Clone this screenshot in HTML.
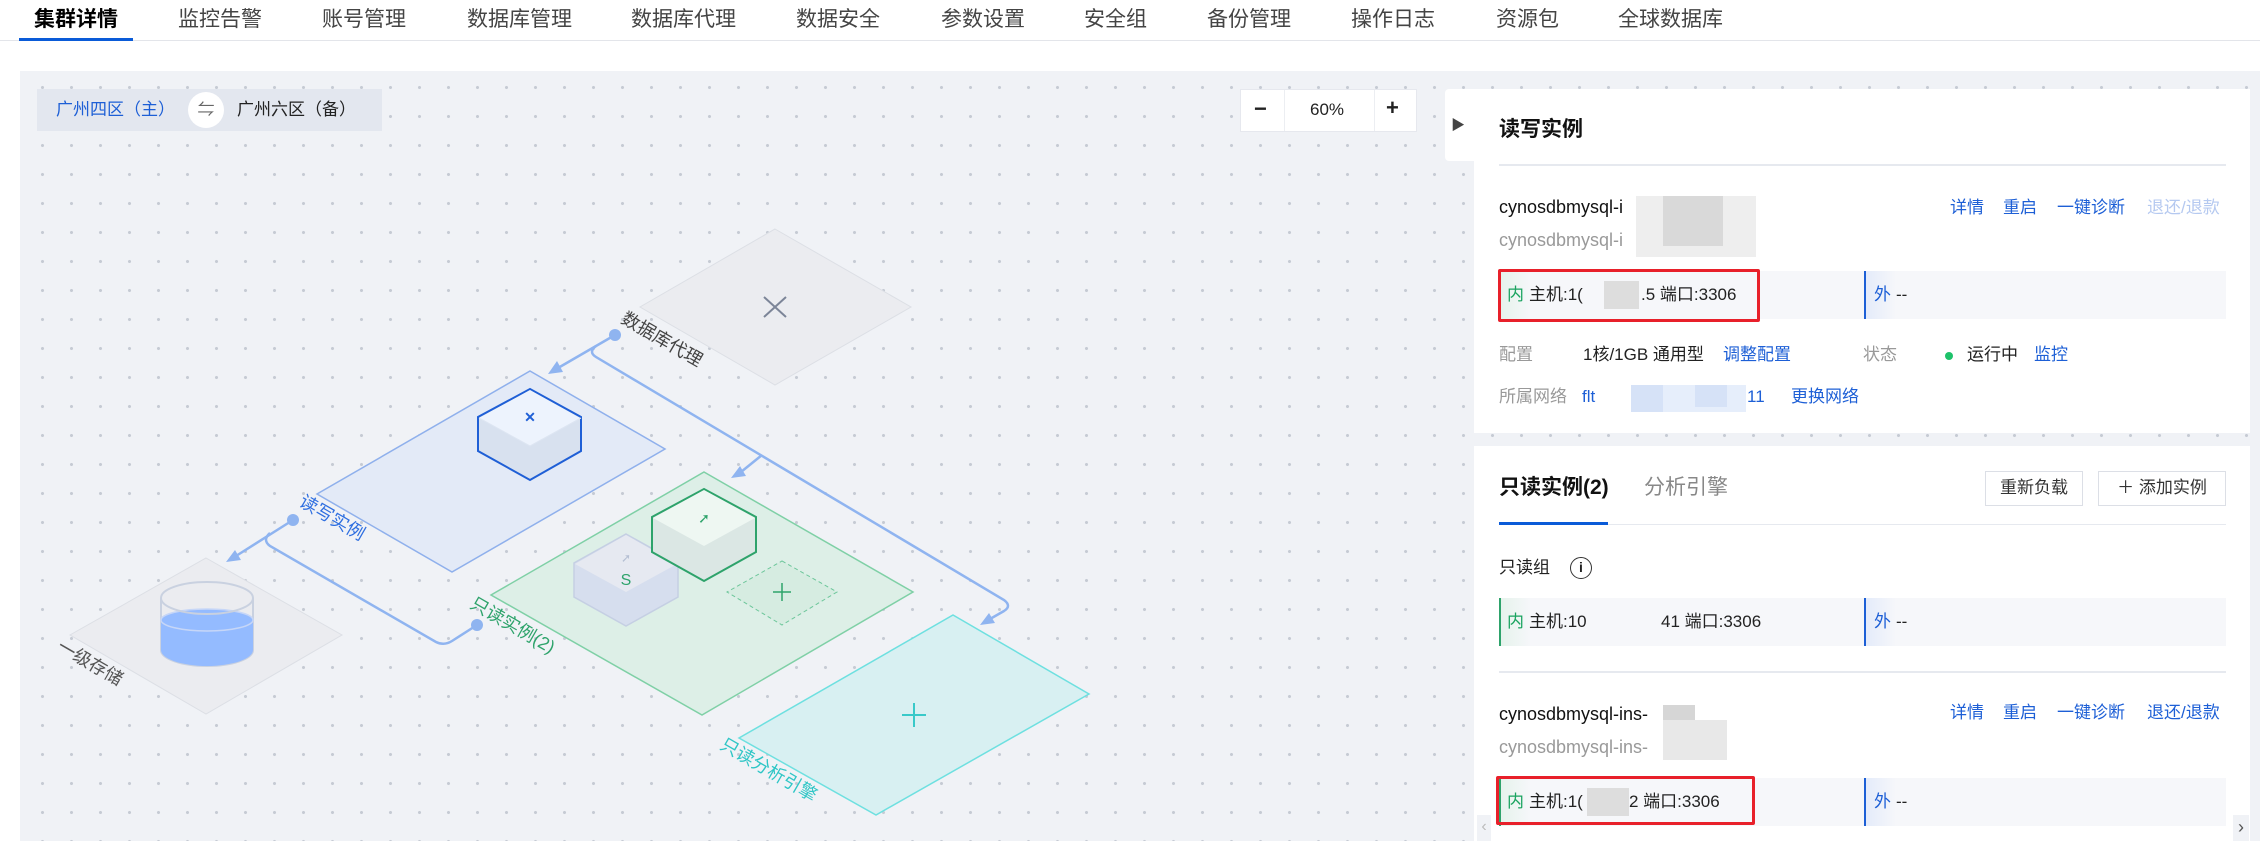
<!DOCTYPE html>
<html><head><meta charset="utf-8"><style>
*{margin:0;padding:0;box-sizing:border-box}
body{width:2260px;height:841px;background:#fff;position:relative;overflow:hidden;font-family:"Liberation Sans","Noto Sans CJK SC",sans-serif;color:#222;line-height:24px}
.a{position:absolute;white-space:nowrap}
.tab{position:absolute;top:6px;font-size:21px;color:#444;line-height:28px}
.canvas{position:absolute;left:20px;top:71px;width:2240px;height:770px;background-color:#f0f2f6;background-image:radial-gradient(circle,#c6cbd4 1.3px,transparent 1.8px);background-size:29px 29px;background-position:8px 2px}
.panel{position:absolute;background:#fff}
.lk{color:#1d5fd6;font-size:17px}
.host{position:absolute;left:1499px;width:727px;height:48px;background:#f6f7fa}
.host .in{position:absolute;left:0;top:0;width:365px;height:48px;border-left:2px solid #2ea36b;background:linear-gradient(90deg,#e6f3ec 0,#f6f7fa 30px)}
.host .out{position:absolute;left:365px;top:0;width:362px;height:48px;border-left:2px solid #1d5fd6;background:linear-gradient(90deg,#e4ebfa 0,#f6f7fa 30px)}
.host span{position:absolute;top:12px;font-size:17px;line-height:24px}
.red{position:absolute;border:3px solid #e8202a;border-radius:2px}
.gray{color:#999;font-size:17px}
.btn{position:absolute;border:1px solid #dcdfe6;background:#fff;font-size:17px;text-align:center;line-height:32px;color:#333}
</style></head><body>
<div class="tab" style="left:34px;color:#000;font-weight:bold">集群详情</div>
<div class="tab" style="left:178px">监控告警</div>
<div class="tab" style="left:322px">账号管理</div>
<div class="tab" style="left:467px">数据库管理</div>
<div class="tab" style="left:631px">数据库代理</div>
<div class="tab" style="left:796px">数据安全</div>
<div class="tab" style="left:941px">参数设置</div>
<div class="tab" style="left:1084px">安全组</div>
<div class="tab" style="left:1207px">备份管理</div>
<div class="tab" style="left:1351px">操作日志</div>
<div class="tab" style="left:1496px">资源包</div>
<div class="tab" style="left:1618px">全球数据库</div>
<div class="a" style="left:0;top:40px;width:2260px;height:1px;background:#e3e5ea"></div>
<div class="a" style="left:19px;top:38px;width:114px;height:3px;background:#0a5bd8"></div>

<div class="canvas"></div>

<div class="a" style="left:37px;top:89px;width:345px;height:42px;background:#e3e7ef"></div>
<div class="a" style="left:56px;top:98px;font-size:17px;color:#1d5fd6">广州四区（主）</div>
<div class="a" style="left:188px;top:92px;width:36px;height:36px;border-radius:18px;background:#fff;text-align:center;line-height:36px;font-size:17px;color:#666">⇋</div>
<div class="a" style="left:237px;top:98px;font-size:17px;color:#222">广州六区（备）</div>
<div class="a" style="left:1240px;top:89px;width:177px;height:43px;background:#fff;border:1px solid #e6e8ee"></div>
<div class="a" style="left:1284px;top:90px;width:1px;height:41px;background:#eceef2"></div>
<div class="a" style="left:1374px;top:90px;width:1px;height:41px;background:#eceef2"></div>
<div class="a" style="left:1254px;top:97px;font-size:22px;font-weight:bold;color:#222">−</div>
<div class="a" style="left:1310px;top:98px;font-size:17px;color:#222">60%</div>
<div class="a" style="left:1386px;top:96px;font-size:22px;font-weight:bold;color:#222">+</div>

<svg class="a" style="left:0;top:0" width="2260" height="841" font-family="Liberation Sans,Noto Sans CJK SC,sans-serif">
<polygon points="775,229 911,307 775,385 640,307" fill="#ebecf0" stroke="#dcdfe5"/>
<path d="M764,297 L786,317 M786,297 L764,317" stroke="#7c8598" stroke-width="2"/>
<text x="620" y="322" font-size="18" fill="#444" transform="rotate(30 620 322)">数据库代理</text>
<polygon points="530,371 665,449 452,572 317,494" fill="#e3eaf7" stroke="#8fb0ec" stroke-width="1.5"/>
<polygon points="530,389 581,417 581,451 530,480 478,451 478,417" fill="#d8e1ef" stroke="#1f5fd6" stroke-width="2"/>
<polygon points="530,390 580,418 530,446 479,418" fill="#edf3fd"/>
<path d="M479,418 L530,446 L581,418" stroke="#dde5f2" fill="none"/>
<text x="530" y="422" font-size="14" fill="#1f5fd6" text-anchor="middle" font-weight="bold">✕</text>
<text x="298" y="505" font-size="18" fill="#2f6fe0" transform="rotate(30 298 505)">读写实例</text>
<polygon points="206,558 342,635 206,714 70,635" fill="#ebecf0" stroke="#dcdfe5"/>
<path d="M161,598 L161,650 A46,16 0 0 0 253,650 L253,598" fill="none" stroke="#c9d1e0" stroke-width="2"/>
<path d="M161,620 A46,11 0 0 1 253,620 L253,650 A46,16 0 0 1 161,650 Z" fill="#94bbff"/>
<ellipse cx="207" cy="620" rx="46" ry="11" fill="none" stroke="#c6d6f7" stroke-width="1.5"/>
<ellipse cx="207" cy="598" rx="46" ry="16" fill="none" stroke="#c9d1e0" stroke-width="2"/>
<text x="56" y="650" font-size="18" fill="#555" transform="rotate(30 56 650)">一级存储</text>
<polygon points="704,472 913,592 702,715 491,595" fill="#ddefe7" stroke="#7fd0a6" stroke-width="1.5"/>
<polygon points="626,534 678,563 678,597 626,626 574,597 574,563" fill="#d6deee" stroke="#c5cfe3" stroke-width="1.5"/>
<polygon points="626,535 677,564 626,592 575,564" fill="#e6e9f1"/>
<text x="626" y="585" font-size="16" fill="#2ea36b" text-anchor="middle">S</text>
<text x="626" y="562" font-size="12" fill="#b5bfd3" text-anchor="middle">➚</text>
<polygon points="704,489 756,517 756,552 704,581 652,552 652,517" fill="#dbe7e4" stroke="#2ea36b" stroke-width="2"/>
<polygon points="704,490 755,518 704,546 653,518" fill="#eef7f2"/>
<text x="704" y="523" font-size="14" fill="#2ea36b" text-anchor="middle">➚</text>
<polygon points="782,561 837,592 782,625 727,592" fill="#d6ece1" stroke="#6cc69a" stroke-dasharray="4,3"/>
<path d="M782,583 L782,601 M773,592 L791,592" stroke="#2ea36b" stroke-width="1.5"/>
<text x="469" y="607" font-size="18" fill="#2ea36b" transform="rotate(30 469 607)">只读实例(2)</text>
<polygon points="953,615 1089,694 876,815 739,738" fill="#d8f0f2" stroke="#6ee0e0" stroke-width="1.5"/>
<path d="M914,703 L914,727 M902,715 L926,715" stroke="#38c9c9" stroke-width="2"/>
<text x="719" y="748" font-size="18" fill="#2fc6c6" transform="rotate(30 719 748)">只读分析引擎</text>
<g stroke="#8fb4f0" stroke-width="2.5" fill="none">
<path d="M615,335 L558,368"/>
<path d="M596,346 Q588,352 596,357 L1004,600 Q1012,606 1004,611 L990,619"/>
<path d="M762,455 L741,472"/>
<path d="M293,520 L236,556"/>
<path d="M270,533 Q262,540 270,546 L436,642 Q444,646 452,641 L477,625"/>
</g>
<g fill="#8fb4f0">
<circle cx="615" cy="335" r="6"/><circle cx="293" cy="520" r="6"/><circle cx="477" cy="625" r="6"/>
<polygon points="548,374 563,372 557,361"/>
<polygon points="731,478 746,476 740,466"/>
<polygon points="980,625 995,623 989,613"/>
<polygon points="226,562 241,560 235,550"/>
</g>
</svg>

<div class="panel" style="left:1445px;top:89px;width:35px;height:72px;border-radius:4px 0 0 4px"></div>
<div class="a" style="left:1451px;top:113px;font-size:14px;color:#444">▶</div>
<div class="panel" style="left:1474px;top:89px;width:776px;height:344px"></div>
<div class="a" style="left:1499px;top:118px;font-size:21px;font-weight:bold;color:#111">读写实例</div>
<div class="a" style="left:1499px;top:164px;width:727px;height:2px;background:#e6e9ef"></div>
<div class="a" style="left:1499px;top:195px;font-size:18px;color:#111">cynosdbmysql-i</div>
<div class="a" style="left:1499px;top:228px;font-size:18px;color:#999">cynosdbmysql-i</div>
<div class="a" style="left:1636px;top:196px;width:120px;height:61px;background:#eee"></div>
<div class="a" style="left:1663px;top:196px;width:60px;height:50px;background:#d9d9d9"></div>
<div class="lk a" style="left:1950px;top:196px">详情</div>
<div class="lk a" style="left:2003px;top:196px">重启</div>
<div class="lk a" style="left:2057px;top:196px">一键诊断</div>
<div class="a" style="left:2147px;top:196px;font-size:17px;color:#b5c9f0">退还/退款</div>
<div class="host" style="top:271px"><div class="in"><span style="left:6px;color:#1aa35f">内</span><span style="left:28px">主机:1(</span><span style="left:103px;top:10px;width:35px;height:28px;background:#ddd"></span><span style="left:140px">.5 端口:3306</span></div><div class="out"><span style="left:8px;color:#1d5fd6">外</span><span style="left:30px">--</span></div></div>
<div class="red" style="left:1498px;top:269px;width:262px;height:53px"></div>
<div class="a gray" style="left:1499px;top:343px">配置</div>
<div class="a" style="left:1583px;top:343px;font-size:17px">1核/1GB 通用型</div>
<div class="lk a" style="left:1723px;top:343px">调整配置</div>
<div class="a gray" style="left:1863px;top:343px">状态</div>
<div class="a" style="left:1945px;top:352px;width:8px;height:8px;border-radius:4px;background:#1ec26a"></div>
<div class="a" style="left:1967px;top:343px;font-size:17px">运行中</div>
<div class="lk a" style="left:2034px;top:343px">监控</div>
<div class="a gray" style="left:1499px;top:385px">所属网络</div>
<div class="lk a" style="left:1582px;top:385px">flt</div>
<div class="a" style="left:1631px;top:385px;width:115px;height:27px;background:#e6eefb"></div>
<div class="a" style="left:1631px;top:385px;width:32px;height:27px;background:#d6e2f7"></div>
<div class="a" style="left:1695px;top:385px;width:32px;height:22px;background:#d6e2f7"></div>
<div class="lk a" style="left:1747px;top:385px">11</div>
<div class="lk a" style="left:1791px;top:385px">更换网络</div>

<div class="panel" style="left:1474px;top:446px;width:776px;height:395px"></div>
<div class="a" style="left:1499px;top:476px;font-size:21px;font-weight:bold;color:#111">只读实例(2)</div>
<div class="a" style="left:1644px;top:476px;font-size:21px;color:#888">分析引擎</div>
<div class="btn" style="left:1985px;top:471px;width:98px;height:35px">重新负载</div>
<div class="btn" style="left:2098px;top:471px;width:128px;height:35px">＋ 添加实例</div>
<div class="a" style="left:1499px;top:524px;width:727px;height:1px;background:#e6e9ef"></div>
<div class="a" style="left:1499px;top:522px;width:109px;height:3px;background:#0a5bd8"></div>
<div class="a" style="left:1499px;top:556px;font-size:17px;color:#222">只读组</div>
<div class="a" style="left:1570px;top:557px;width:22px;height:22px;border:1.5px solid #333;border-radius:11px;text-align:center;font-size:14px;line-height:19px;font-weight:bold">i</div>
<div class="host" style="top:598px"><div class="in"><span style="left:6px;color:#1aa35f">内</span><span style="left:28px">主机:10</span><span style="left:160px">41 端口:3306</span></div><div class="out"><span style="left:8px;color:#1d5fd6">外</span><span style="left:30px">--</span></div></div>
<div class="a" style="left:1499px;top:671px;width:727px;height:2px;background:#e6e9ef"></div>
<div class="a" style="left:1499px;top:702px;font-size:18px;color:#111">cynosdbmysql-ins-</div>
<div class="a" style="left:1499px;top:735px;font-size:18px;color:#999">cynosdbmysql-ins-</div>
<div class="a" style="left:1663px;top:705px;width:32px;height:20px;background:#d6d6d6"></div>
<div class="a" style="left:1663px;top:720px;width:64px;height:40px;background:#e8e8e8"></div>
<div class="lk a" style="left:1950px;top:701px">详情</div>
<div class="lk a" style="left:2003px;top:701px">重启</div>
<div class="lk a" style="left:2057px;top:701px">一键诊断</div>
<div class="lk a" style="left:2147px;top:701px">退还/退款</div>
<div class="host" style="top:778px"><div class="in"><span style="left:6px;color:#1aa35f">内</span><span style="left:28px">主机:1(</span><span style="left:86px;top:10px;width:42px;height:28px;background:#ddd"></span><span style="left:128px">2 端口:3306</span></div><div class="out"><span style="left:8px;color:#1d5fd6">外</span><span style="left:30px">--</span></div></div>
<div class="red" style="left:1496px;top:776px;width:259px;height:49px"></div>
<div class="a" style="left:1477px;top:815px;width:14px;height:26px;background:#f0f2f6;color:#bbb;font-size:16px;text-align:center">‹</div>
<div class="a" style="left:2233px;top:815px;width:16px;height:26px;background:#f0f2f6;color:#555;font-size:18px;text-align:center">›</div>
</body></html>
